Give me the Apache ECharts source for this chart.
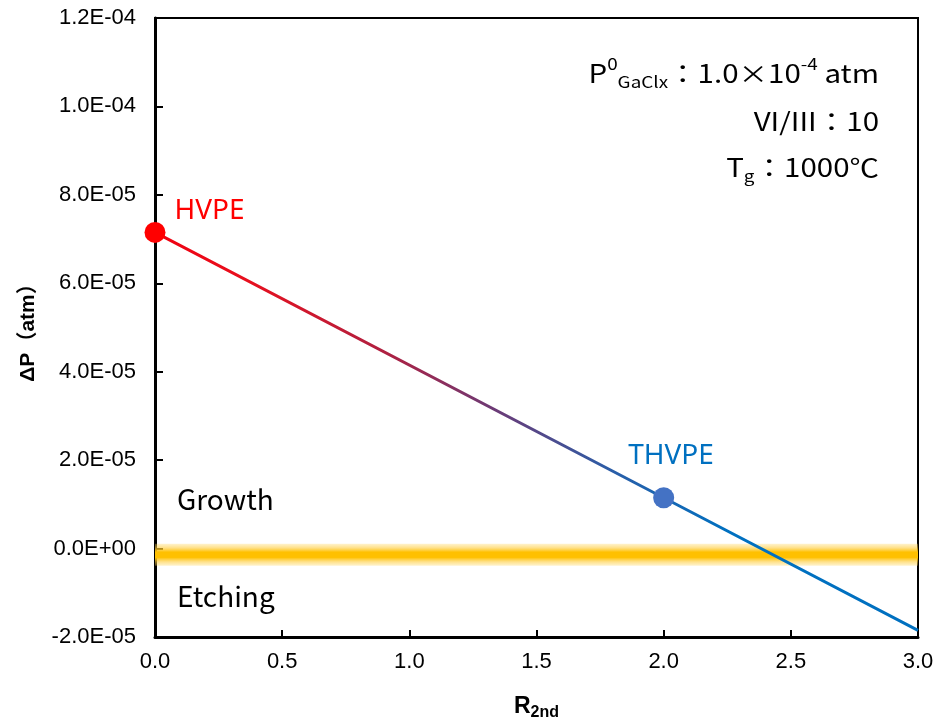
<!DOCTYPE html>
<html>
<head>
<meta charset="utf-8">
<script src="https://cdn.jsdelivr.net/npm/echarts@6/dist/echarts.min.js"></script>
<style>
  html, body { margin: 0; padding: 0; background: #fff; }
  #chart { width: 938px; height: 727px; }
</style>
</head>
<body>
<div id="chart"></div>
<script>
// Supersaturation ΔP against the second-stage ratio R2nd
const lineR = [0, 2, 3];
const lineDeltaP = [7.15e-5, 1.15e-5, -1.85e-5];

const pointNames = ['HVPE', 'THVPE'];
const pointR = [0, 2];
const pointDeltaP = [7.15e-5, 1.15e-5];
const pointColors = ['#FF0000', '#4472C4'];
const pointLabelColors = ['#FF0000', '#0070C0'];

// Equilibrium band around ΔP = 0
const bandLow = -3.9e-6;
const bandHigh = 1.1e-6;

const regionNames = ['Growth', 'Etching'];

const conditionLines = [
  '{t|P}{sup|0}{sub|GaClx}{t|：1.0×10}{sup|-4}{t| atm}',
  '{t|VI/III：10}',
  '{t|T}{sub|g}{t|：1000℃}'
];

function sci(v) {
  if (Math.abs(v) < 1e-12) return '0.0E+00';
  const e = Math.floor(Math.log10(Math.abs(v)) + 1e-9);
  const m = v / Math.pow(10, e);
  const sign = e < 0 ? '-' : '+';
  const ae = Math.abs(e);
  return m.toFixed(1) + 'E' + sign + (ae < 10 ? '0' + ae : ae);
}

const chart = echarts.init(document.getElementById('chart'));

const jpFont = 'Noto Sans CJK JP';
const richBase = {
  t: { fontSize: 25, color: '#000', fontFamily: jpFont, lineHeight: 34 },
  sup: { fontSize: 16, color: '#000', fontFamily: jpFont, verticalAlign: 'top', lineHeight: 34, padding: [0, 0, 12, 0] },
  sub: { fontSize: 16, color: '#000', fontFamily: jpFont, verticalAlign: 'bottom', lineHeight: 34, padding: [10, 0, 0, 0] }
};
const conditionY = [73, 121, 167];

chart.setOption({
  animation: false,
  backgroundColor: '#fff',
  grid: { left: 155, right: 20, top: 18, bottom: 90, show: true, borderColor: '#000', borderWidth: 2 },
  xAxis: {
    type: 'value',
    min: 0, max: 3, interval: 0.5,
    name: 'R{s|2nd}',
    nameLocation: 'middle',
    nameGap: 56,
    nameTextStyle: {
      rich: {
        s: { fontSize: 16, fontWeight: 'bold', fontFamily: 'Liberation Sans', color: '#000', padding: [12, 0, 0, 0] }
      },
      fontSize: 23, fontWeight: 'bold', fontFamily: 'Liberation Sans', color: '#000'
    },
    axisLine: { onZero: false, lineStyle: { color: '#000', width: 3 } },
    axisTick: { inside: true, length: 7, lineStyle: { color: '#000', width: 2 } },
    axisLabel: {
      margin: 14, fontSize: 22, color: '#000', fontFamily: 'Liberation Sans',
      formatter: v => v.toFixed(1)
    },
    splitLine: { show: false }
  },
  yAxis: {
    type: 'value',
    min: -2e-5, max: 1.2e-4, interval: 2e-5,
    name: 'ΔP（atm）',
    nameLocation: 'middle',
    nameGap: 116,
    nameTextStyle: { fontSize: 21, fontWeight: 'bold', fontFamily: ['Liberation Sans', jpFont], color: '#000' },
    axisLine: { onZero: false, lineStyle: { color: '#000', width: 3 } },
    axisTick: { inside: true, length: 8, lineStyle: { color: '#000', width: 2 } },
    axisLabel: {
      margin: 19, fontSize: 22, color: '#000', fontFamily: 'Liberation Sans',
      formatter: v => sci(v)
    },
    splitLine: { show: false }
  },
  series: [
    {
      type: 'line',
      z: 1,
      data: [],
      markArea: {
        silent: true,
        itemStyle: {
          color: new echarts.graphic.LinearGradient(0, 0, 0, 1, [
            { offset: 0, color: 'rgba(255,214,90,0.3)' },
            { offset: 0.18, color: 'rgba(255,205,60,0.6)' },
            { offset: 0.38, color: 'rgba(255,192,0,1)' },
            { offset: 0.62, color: 'rgba(255,192,0,1)' },
            { offset: 0.82, color: 'rgba(255,205,60,0.6)' },
            { offset: 1, color: 'rgba(255,214,90,0.3)' }
          ])
        },
        data: [[{ yAxis: bandHigh }, { yAxis: bandLow }]]
      }
    },
    {
      type: 'line',
      z: 3,
      symbol: 'none',
      data: lineR.map((r, i) => [r, lineDeltaP[i]]),
      lineStyle: {
        width: 3,
        color: new echarts.graphic.LinearGradient(0, 0, 1, 0, [
          { offset: 0, color: '#F00010' },
          { offset: 0.12, color: '#E8101E' },
          { offset: 0.3, color: '#B02040' },
          { offset: 0.45, color: '#6A3C78' },
          { offset: 0.6, color: '#2A5EA8' },
          { offset: 0.75, color: '#0070C0' },
          { offset: 1, color: '#0070C0' }
        ])
      }
    },
    {
      type: 'scatter',
      z: 4,
      symbolSize: 21,
      data: pointR.map((r, i) => ({
        value: [r, pointDeltaP[i]],
        itemStyle: { color: pointColors[i], opacity: 1 },
        label: {
          show: true,
          formatter: pointNames[i],
          color: pointLabelColors[i],
          fontSize: 28,
          fontFamily: 'Noto Sans',
          position: i === 0 ? [30, -25] : [-25, -45]
        }
      }))
    }
  ],
  graphic: [
    {
      type: 'text', left: 177, top: 485,
      style: { text: regionNames[0], fontSize: 28, fontFamily: jpFont, fill: '#000' }
    },
    {
      type: 'text', left: 177, top: 582,
      style: { text: regionNames[1], fontSize: 28, fontFamily: jpFont, fill: '#000' }
    },
    ...conditionLines.map((t, i) => ({
      type: 'text', x: 879, y: conditionY[i], scaleX: 1.18,
      style: { text: t, rich: richBase, align: 'right', verticalAlign: 'middle' }
    }))
  ]
});
</script>
</body>
</html>
